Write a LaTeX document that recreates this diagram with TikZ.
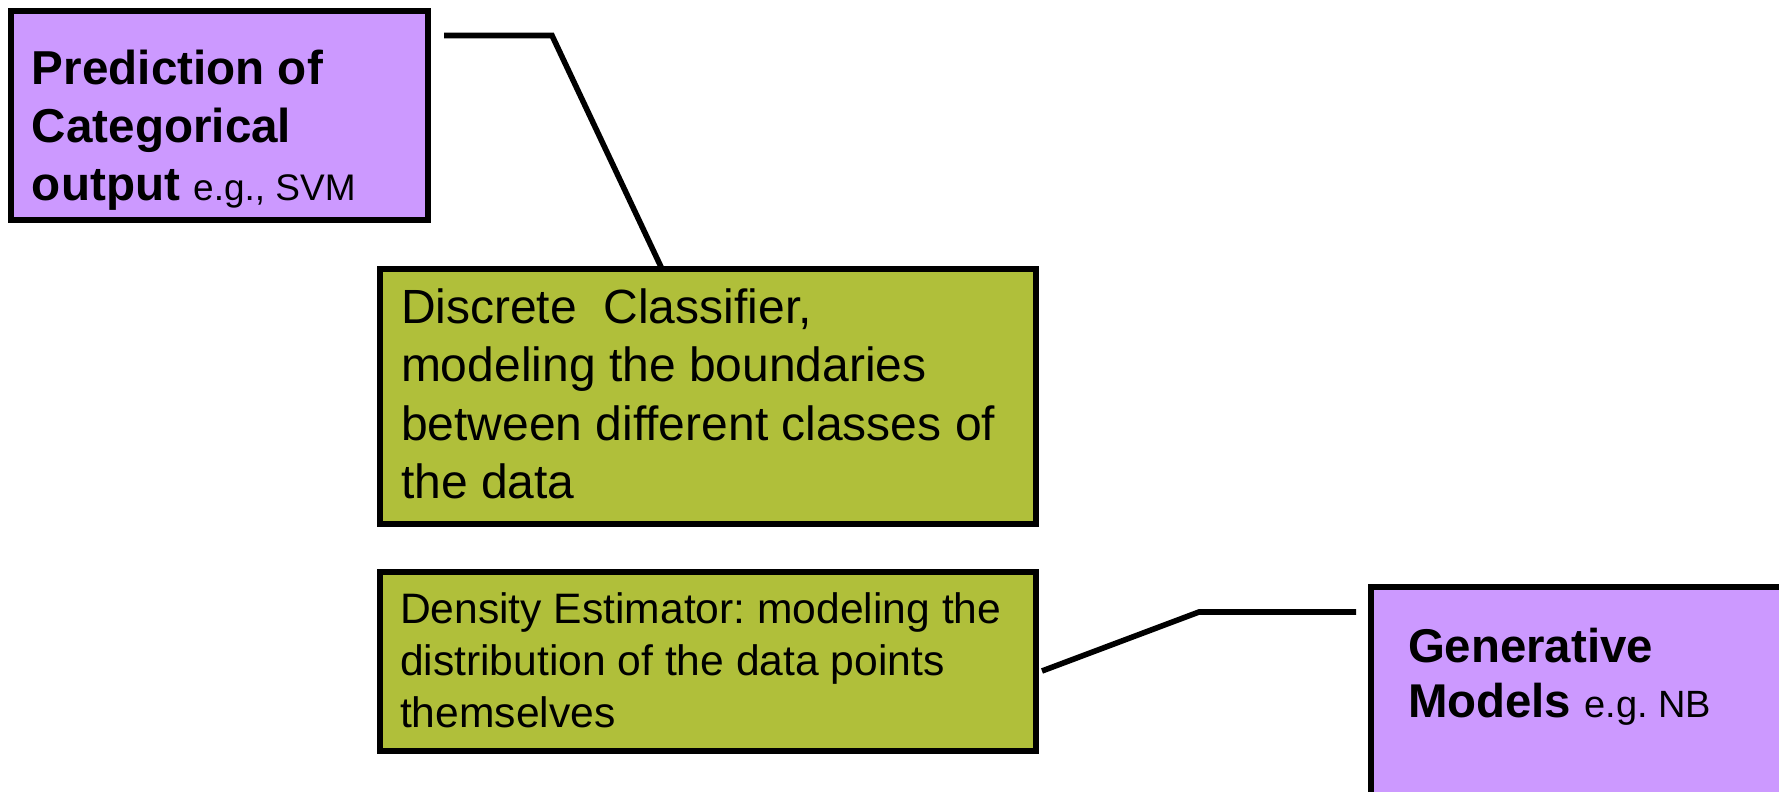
\documentclass[tikz,border=0pt]{standalone}
\usepackage{fontspec}
\setmainfont{Liberation Sans}
\frenchspacing
\definecolor{boxpurple}{RGB}{204,153,255}
\definecolor{boxgreen}{RGB}{176,191,58}
\begin{document}
\frenchspacing
\begin{tikzpicture}[x=0.5pt,y=-0.5pt,
  box/.style={draw=black,line width=3pt,inner sep=0pt,outer sep=0pt,anchor=north west},
  pbox/.style={box,fill=boxpurple},
  gbox/.style={box,fill=boxgreen},
  txt/.style={anchor=base west,inner sep=0pt,outer sep=0pt,text=black},
  conn/.style={draw=black,line width=2.8pt}]
\useasboundingbox (0,0) rectangle (1779,792);
\clip (0,0) rectangle (1779,792);
\fill[white] (0,0) rectangle (1779,792);

% boxes
\node[pbox,minimum width=208.5pt,minimum height=104.5pt] (p1) at (11,11) {};
\node[gbox,minimum width=328pt,minimum height=127.5pt] (g1) at (380,269) {};
\node[gbox,minimum width=328pt,minimum height=89.5pt] (g2) at (380,572) {};
\node[pbox,minimum width=214.5pt,minimum height=116.5pt] (p2) at (1371,587) {};

% texts
\node[txt] (p1t) at (32,85) {\fontsize{23.8pt}{29pt}\selectfont
  \begin{tabular}[t]{@{}l@{}}\bfseries Prediction of\\ \bfseries Categorical\\ \bfseries output {\mdseries\fontsize{18.5pt}{29pt}\selectfont e.g., SVM}\end{tabular}};
\node[txt] (g1t) at (401,323) {\fontsize{24pt}{29.3pt}\selectfont
  \begin{tabular}[t]{@{}l@{}}Discrete\ \ Classifier,\\ modeling the boundaries\\ between different classes of\\ the data\end{tabular}};
\node[txt] (g2t) at (400,623) {\fontsize{21.3pt}{26pt}\selectfont
  \begin{tabular}[t]{@{}l@{}}Density Estimator: modeling the\\ distribution of the data points\\ themselves\end{tabular}};
\node[txt] (p2t) at (1408,662) {\fontsize{23.7pt}{27.5pt}\selectfont
  \begin{tabular}[t]{@{}l@{}}\bfseries Generative\\ \bfseries Models {\mdseries\fontsize{19pt}{27.5pt}\selectfont e.g. NB}\end{tabular}};

% connectors
\coordinate (c1s) at (444,35.5);
\coordinate (c1m) at (552,35.5);
\coordinate (c1e) at (662,269);
\draw[conn] (c1s) -- (c1m) -- (c1e |- g1.north);
\coordinate (c2s) at (1042,671);
\coordinate (c2m) at (1199,612);
\coordinate (c2e) at (1356,612);
\draw[conn] (c2s) -- (c2m) -- (c2e);
\end{tikzpicture}
\end{document}
